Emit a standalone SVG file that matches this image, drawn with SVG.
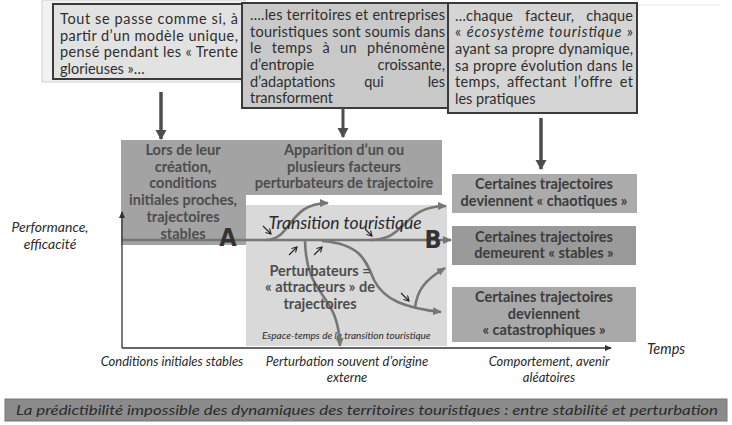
<svg xmlns="http://www.w3.org/2000/svg" width="732" height="425" viewBox="0 0 732 425">
<style>
.tb{font-family:Lato,"Open Sans",sans-serif;font-size:14.5px;fill:#2e2e2e}
.bb{font-family:Lato,"Open Sans",sans-serif;font-size:14.5px;font-weight:bold;fill:#4d4d4d;text-anchor:middle}
.rb{font-family:Lato,"Open Sans",sans-serif;font-size:14.5px;font-weight:bold;fill:#3c3c3c;text-anchor:middle}
.it{font-family:Lato,"Open Sans",sans-serif;font-style:italic;fill:#2a2a2a}
.letter{font-family:"DejaVu Sans Condensed","DejaVu Sans",sans-serif;font-weight:bold;font-size:25px;fill:#333}
.box{stroke:#3a3a3a;stroke-width:2}
.traj{fill:none;stroke:#767676;stroke-width:2.6}
.small{fill:none;stroke:#222;stroke-width:1.1}
</style>
<defs>
<marker id="mg" markerUnits="userSpaceOnUse" markerWidth="10" markerHeight="10" refX="8" refY="5" orient="auto"><path d="M0,1 L9,5 L0,9 z" fill="#767676"/></marker>
<marker id="mk" markerUnits="userSpaceOnUse" markerWidth="8" markerHeight="8" refX="6" refY="4" orient="auto"><path d="M0,1 L7,4 L0,7 z" fill="#333"/></marker>
<marker id="ms" markerUnits="userSpaceOnUse" markerWidth="6" markerHeight="6" refX="5" refY="3" orient="auto"><path d="M0,0 L5,3 L0,6" fill="none" stroke="#222" stroke-width="1.1"/></marker>
<marker id="mt" markerUnits="userSpaceOnUse" markerWidth="12" markerHeight="12" refX="9" refY="6" orient="auto"><path d="M0,0.5 L10,6 L0,11.5 z" fill="#4d4d4d"/></marker>
</defs>

<rect x="42" y="0" width="203" height="82" fill="#f1f1f1" stroke="#d0d0d0" stroke-width="1"/>
<line x1="637" y1="5" x2="720" y2="5" stroke="#e6e6e6" stroke-width="1"/>

<g id="box-top-1">
<rect class="box" x="53" y="4" width="191" height="75" fill="#e2e2e2"/>
<text class="tb" x="60" y="24" textLength="178" lengthAdjust="spacing">Tout se passe comme si, à</text>
<text class="tb" x="60" y="40.5" textLength="178" lengthAdjust="spacing">partir d’un modèle unique,</text>
<text class="tb" x="60" y="57" textLength="178" lengthAdjust="spacing">pensé pendant les « Trente</text>
<text class="tb" x="60" y="73.5">glorieuses »…</text>
</g>

<g id="box-top-2">
<rect class="box" x="242" y="3" width="207" height="105" fill="#c9c9c9"/>
<text class="tb" x="250" y="20" textLength="195" lengthAdjust="spacing">….les territoires et entreprises</text>
<text class="tb" x="250" y="36.7" textLength="195" lengthAdjust="spacing">touristiques sont soumis dans</text>
<text class="tb" x="250" y="53.3" textLength="195" lengthAdjust="spacing" word-spacing="6">le temps à un phénomène</text>
<text class="tb" x="250" y="70">d’entropie</text>
<text class="tb" x="445" y="70" text-anchor="end">croissante,</text>
<text class="tb" x="250" y="86.7">d’adaptations</text>
<text class="tb" x="374" y="86.7" text-anchor="middle">qui</text>
<text class="tb" x="445" y="86.7" text-anchor="end">les</text>
<text class="tb" x="250" y="103.3">transforment</text>
</g>

<g id="box-top-3">
<rect class="box" x="448" y="3" width="189" height="110" fill="#d5d5d5"/>
<text class="tb" x="455" y="20.5" textLength="178" lengthAdjust="spacing" word-spacing="8">…chaque facteur, chaque</text>
<text class="tb" x="455" y="37.2" textLength="178" lengthAdjust="spacing">« <tspan font-style="italic">écosystème touristique</tspan> »</text>
<text class="tb" x="455" y="53.9" textLength="178" lengthAdjust="spacing">ayant sa propre dynamique,</text>
<text class="tb" x="455" y="70.6" textLength="178" lengthAdjust="spacing">sa propre évolution dans le</text>
<text class="tb" x="455" y="87.3" textLength="178" lengthAdjust="spacing" word-spacing="3">temps, affectant l’offre et</text>
<text class="tb" x="455" y="104">les pratiques</text>
</g>

<g id="espace-temps">
<rect x="246" y="205" width="201" height="141" fill="#d9d9d9"/>
<text class="it" x="262" y="339" font-size="10">Espace-temps de  la transition touristique</text>
</g>

<g id="box-initial">
<rect x="121" y="140" width="125" height="105" fill="#a3a3a3"/>
<text class="bb" x="183" y="155">Lors de leur</text>
<text class="bb" x="183" y="171.7">création,</text>
<text class="bb" x="183" y="188.4">conditions</text>
<text class="bb" x="183" y="205.1">initiales proches,</text>
<text class="bb" x="183" y="221.8">trajectoires</text>
<text class="bb" x="183" y="238.5">stables</text>
</g>

<g id="box-apparition">
<rect x="246" y="140" width="196" height="55" fill="#a3a3a3"/>
<text class="bb" x="344" y="155">Apparition d’un ou</text>
<text class="bb" x="344" y="171.7">plusieurs facteurs</text>
<text class="bb" x="344" y="188.4">perturbateurs de trajectoire</text>
</g>

<g id="box-chaotiques">
<rect x="452" y="174" width="185" height="39" fill="#ababab"/>
<text class="rb" x="544" y="189">Certaines trajectoires</text>
<text class="rb" x="544" y="206">deviennent « chaotiques »</text>
</g>

<g id="box-stables">
<rect x="452" y="226" width="184" height="39" fill="#9a9a9a"/>
<text class="rb" x="544" y="241.5">Certaines trajectoires</text>
<text class="rb" x="544" y="257.5">demeurent « stables »</text>
</g>

<g id="box-catastrophiques">
<rect x="452" y="287" width="184" height="55" fill="#a9a9a9"/>
<text class="rb" x="544" y="302">Certaines trajectoires</text>
<text class="rb" x="544" y="318.5">deviennent</text>
<text class="rb" x="544" y="335">« catastrophiques »</text>
</g>

<g id="connectors">
<line x1="161" y1="92" x2="161" y2="139" stroke="#4d4d4d" stroke-width="3.5" marker-end="url(#mt)"/>
<line x1="343" y1="108" x2="343" y2="137" stroke="#4d4d4d" stroke-width="3" marker-end="url(#mt)"/>
<line x1="541" y1="118" x2="541" y2="169" stroke="#4d4d4d" stroke-width="3.5" marker-end="url(#mt)"/>

<line class="traj" x1="122" y1="240" x2="451" y2="240" marker-end="url(#mg)"/>
<path class="traj" d="M266,240 C292,240 288,203 328,203" marker-end="url(#mg)"/>
<path class="traj" d="M370,240 C408,240 402,206 446,206" marker-end="url(#mg)"/>
<path class="traj" d="M305,240 C306,300 338,290 340,346" marker-end="url(#mg)"/>
<path class="traj" d="M322,241 C362,244 366,262 374,280 C384,300 405,308 441,312" marker-end="url(#mg)"/>
<path class="traj" d="M415,308 C417,290 425,280 445,268" marker-end="url(#mg)"/>

<line class="small" x1="263" y1="226" x2="271" y2="234" marker-end="url(#ms)"/>
<line class="small" x1="365" y1="229" x2="372" y2="236" marker-end="url(#ms)"/>
<line class="small" x1="289" y1="255" x2="297" y2="247" marker-end="url(#ms)"/>
<line class="small" x1="314" y1="255" x2="322" y2="247" marker-end="url(#ms)"/>
<line class="small" x1="401" y1="293" x2="409" y2="301" marker-end="url(#ms)"/>

<line x1="122" y1="348" x2="122" y2="212" stroke="#333" stroke-width="1.3" marker-end="url(#mk)"/>
<line x1="122" y1="348" x2="611" y2="348" stroke="#333" stroke-width="1.3" marker-end="url(#mk)"/>
</g>

<g id="labels">
<text class="it" x="345" y="229" font-size="17.5" fill="#333" text-anchor="middle">Transition touristique</text>
<text class="letter" x="228" y="246" text-anchor="middle">A</text>
<text class="letter" x="433" y="248" text-anchor="middle">B</text>
<text class="bb" x="320" y="275.5">Perturbateurs =</text>
<text class="bb" x="320" y="292.2">« attracteurs » de</text>
<text class="bb" x="320" y="309">trajectoires</text>
<text class="it" x="50" y="232" font-size="14" text-anchor="middle">Performance,</text>
<text class="it" x="50" y="249" font-size="14" text-anchor="middle">efficacité</text>
<text class="it" x="172" y="366" font-size="13" text-anchor="middle">Conditions initiales stables</text>
<text class="it" x="347" y="366" font-size="13" text-anchor="middle">Perturbation souvent d’origine</text>
<text class="it" x="347" y="382" font-size="13" text-anchor="middle">externe</text>
<text class="it" x="549" y="366" font-size="13" text-anchor="middle">Comportement, avenir</text>
<text class="it" x="549" y="382" font-size="13" text-anchor="middle">aléatoires</text>
<text class="it" x="647" y="354" font-size="14.5">Temps</text>
</g>

<g id="banner">
<rect x="5" y="399" width="722" height="22" fill="#8b8b8b" stroke="#777" stroke-width="1"/>
<text class="it" x="16" y="415" font-size="14" textLength="702" lengthAdjust="spacingAndGlyphs" fill="#262626">La prédictibilité impossible des dynamiques des territoires touristiques : entre stabilité et perturbation</text>
</g>
</svg>
